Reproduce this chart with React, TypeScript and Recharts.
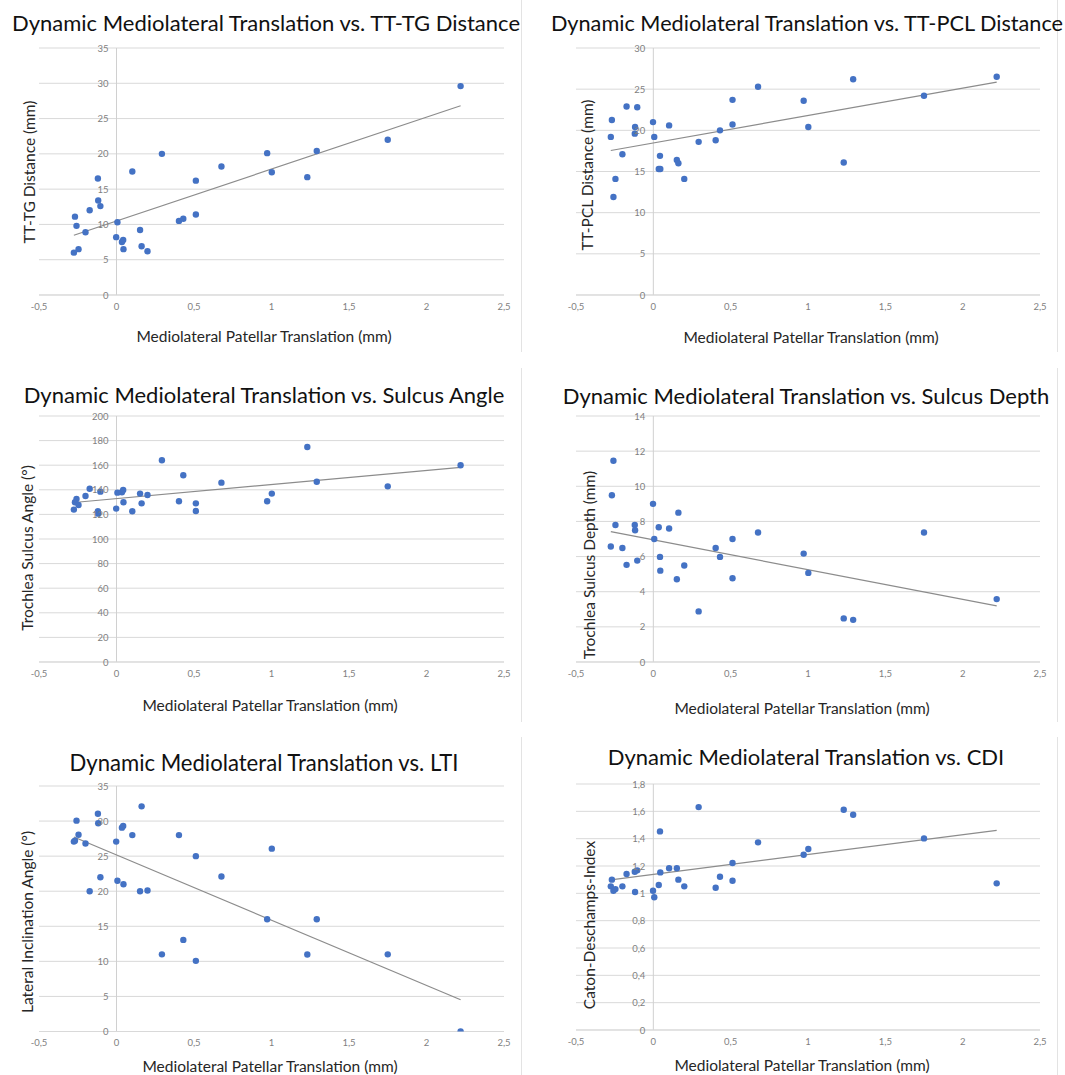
import { ScatterChart, Scatter, XAxis, YAxis, CartesianGrid, ReferenceLine } from "recharts";

// mediolateral patellar translation (mm), one value per knee
const translation = [
  -0.275, -0.268, -0.258, -0.245, -0.2, -0.173, -0.12, -0.118, -0.104, -0.002,
  0.006, 0.035, 0.043, 0.045, 0.102, 0.152, 0.162, 0.2, 0.293, 0.403,
  0.431, 0.512, 0.512, 0.677, 0.972, 1.002, 1.231, 1.292, 1.75, 2.22,
];

const ttTg = [
  6.0, 11.1, 9.8, 6.5, 8.9, 12.0, 16.5, 13.4, 12.6, 8.2,
  10.3, 7.5, 7.8, 6.5, 17.5, 9.2, 6.9, 6.2, 20.0, 10.5,
  10.8, 16.2, 11.4, 18.2, 20.1, 17.4, 16.7, 20.4, 22.0, 29.6,
];
const ttPcl = [
  19.2, 21.25, 11.9, 14.1, 17.1, 22.9, 19.6, 20.4, 22.8, 21.0,
  19.2, 15.3, 16.9, 15.3, 20.6, 16.4, 16.0, 14.1, 18.6, 18.8,
  20.0, 23.7, 20.7, 25.3, 23.6, 20.4, 16.1, 26.2, 24.2, 26.5,
];
const sulcusAngle = [
  123.9, 129.9, 132.5, 127.7, 135, 140.9, 122.6, 120.6, 138.5, 124.7,
  137.7, 138, 139.9, 129.9, 122.6, 136.9, 129, 135.8, 164, 130.7,
  151.8, 129, 122.8, 145.8, 130.7, 136.9, 174.8, 146.6, 142.8, 159.9,
];
const sulcusDepth = [
  6.57, 9.49, 11.45, 7.8, 6.49, 5.53, 7.8, 7.5, 5.77, 9.0,
  7.0, 7.67, 5.98, 5.2, 7.6, 4.71, 8.5, 5.49, 2.88, 6.49,
  5.98, 7.0, 4.77, 7.37, 6.17, 5.07, 2.48, 2.4, 7.37, 3.58,
];
const lti = [
  27.07, 27.2, 30.06, 28.06, 26.8, 20.0, 31.05, 29.7, 22.0, 27.07,
  21.5, 29.06, 29.3, 21.0, 28.0, 20.0, 32.1, 20.1, 11.0, 28.0,
  13.06, 25.0, 10.07, 22.1, 16.0, 26.07, 10.97, 16.0, 11.0, 0,
];
const cdi = [
  1.051, 1.1, 1.019, 1.031, 1.051, 1.141, 1.158, 1.01, 1.168, 1.019,
  0.971, 1.061, 1.453, 1.153, 1.183, 1.183, 1.1, 1.051, 1.631, 1.041,
  1.121, 1.222, 1.092, 1.373, 1.282, 1.324, 1.612, 1.575, 1.402, 1.073,
];

const xTicks = [-0.5, 0, 0.5, 1, 1.5, 2, 2.5];
const ticks35 = [0, 5, 10, 15, 20, 25, 30, 35];
const ticks30 = [0, 5, 10, 15, 20, 25, 30];
const ticks200 = [0, 20, 40, 60, 80, 100, 120, 140, 160, 180, 200];
const ticks14 = [0, 2, 4, 6, 8, 10, 12, 14];
const ticks18 = [0, 0.2, 0.4, 0.6, 0.8, 1, 1.2, 1.4, 1.6, 1.8];

const FONT = "Lato, 'Open Sans', sans-serif";
const PAD = 20;
const YW = 2;
const TOP = 6;
const XH = 22;

const comma = (v: number) => String(v).replace(".", ",");

// least squares trendline, like the spreadsheet's linear trendline
function trend(xs: number[], ys: number[]) {
  const n = xs.length;
  const mx = xs.reduce((a, b) => a + b, 0) / n;
  const my = ys.reduce((a, b) => a + b, 0) / n;
  let sxy = 0, sxx = 0;
  xs.forEach((x, i) => { sxy += (x - mx) * (ys[i] - my); sxx += (x - mx) ** 2; });
  const k = sxy / sxx;
  const x0 = Math.min(...xs), x1 = Math.max(...xs);
  return [{ x: x0, y: my + k * (x0 - mx) }, { x: x1, y: my + k * (x1 - mx) }];
}

type Pos = { x: number; y: number };

function Panel({ plot, values, yTicks, title, titlePos, titleSize, yTitle, yTitlePos, xTitlePos }: {
  plot: { left: number; top: number; w: number; h: number };
  values: number[];
  yTicks: number[];
  title: string;
  titlePos: Pos;
  titleSize: number;
  yTitle: string;
  yTitlePos: Pos;
  xTitlePos: Pos;
}) {
  const data = translation.map((x, i) => ({ x, y: values[i] }));
  const line = trend(translation, values);
  const zeroX = PAD + plot.w / 6;
  const yTick = (p: any) => (
    <text x={zeroX - 8} y={p.y} textAnchor="end" dominantBaseline="central" fontSize={9.5} fill="#7f7f7f" fontFamily={FONT}>
      {comma(p.payload.value)}
    </text>
  );
  const center = { position: "absolute" as const, whiteSpace: "nowrap" as const, lineHeight: 1, fontFamily: FONT };
  return (
    <>
      <div style={{ position: "absolute", left: plot.left - PAD, top: plot.top - TOP }}>
        <ScatterChart width={plot.w + 2 * PAD} height={plot.h + TOP + XH} margin={{ top: TOP, right: PAD, bottom: 0, left: PAD - YW }}>
          <CartesianGrid vertical={false} stroke="#d9d9d9" />
          <XAxis type="number" dataKey="x" domain={[-0.5, 2.5]} ticks={xTicks} interval={0} tickFormatter={comma}
            axisLine={{ stroke: "#d9d9d9" }} tickLine={false} height={XH}
            tick={{ fontSize: 9.5, fill: "#7f7f7f", fontFamily: FONT }} allowDataOverflow />
          <YAxis type="number" dataKey="y" domain={[0, yTicks[yTicks.length - 1]]} ticks={yTicks} interval={0}
            width={YW} axisLine={false} tickLine={false} tick={yTick} allowDataOverflow />
          <ReferenceLine x={0} stroke="#d0d0d0" />
          <ReferenceLine segment={line} stroke="#8c8c8c" strokeWidth={1.2} ifOverflow="visible" />
          <Scatter data={data} isAnimationActive={false}
            shape={(p: any) => <circle cx={p.cx} cy={p.cy} r={3.2} fill="#4472c4" />} />
        </ScatterChart>
      </div>
      <div style={{ ...center, left: titlePos.x, top: titlePos.y, transform: "translate(-50%,-50%)", fontSize: titleSize, color: "#111" }}>
        {title}
      </div>
      <div style={{ ...center, left: yTitlePos.x, top: yTitlePos.y, transform: "translate(-50%,-50%) rotate(-90deg)", fontSize: 15.5, color: "#262626" }}>
        {yTitle}
      </div>
      <div style={{ ...center, left: xTitlePos.x, top: xTitlePos.y, transform: "translate(-50%,-50%)", fontSize: 15.5, color: "#262626" }}>
        Mediolateral Patellar Translation (mm)
      </div>
    </>
  );
}

const border = (left: number, top: number, height: number) => (
  <div style={{ position: "absolute", left, top, width: 1, height, background: "#e3e3e3" }} />
);

export default function App() {
  const L = { left: 39, w: 465 };
  const R = { left: 576, w: 464 };
  return (
    <div style={{ position: "absolute", left: 0, top: 0, width: 1065, height: 1075, background: "#fff", overflow: "hidden" }}>
      {border(521, 0, 352)}
      {border(1057, 0, 352)}
      {border(521, 368, 354)}
      {border(1057, 368, 354)}
      {border(521, 737, 338)}
      {border(1057, 737, 338)}
      <Panel plot={{ ...L, top: 48, h: 247 }} values={ttTg} yTicks={ticks35}
        title="Dynamic Mediolateral Translation vs. TT-TG Distance" titlePos={{ x: 266, y: 23 }} titleSize={22}
        yTitle="TT-TG Distance (mm)" yTitlePos={{ x: 30, y: 172 }} xTitlePos={{ x: 264, y: 337 }} />
      <Panel plot={{ ...R, top: 48, h: 247 }} values={ttPcl} yTicks={ticks30}
        title="Dynamic Mediolateral Translation vs. TT-PCL Distance" titlePos={{ x: 807, y: 24 }} titleSize={21.7}
        yTitle="TT-PCL Distance (mm)" yTitlePos={{ x: 588, y: 175 }} xTitlePos={{ x: 811, y: 338 }} />
      <Panel plot={{ ...L, top: 416, h: 246 }} values={sulcusAngle} yTicks={ticks200}
        title="Dynamic Mediolateral Translation vs. Sulcus Angle" titlePos={{ x: 264, y: 395 }} titleSize={22}
        yTitle="Trochlea Sulcus Angle (°)" yTitlePos={{ x: 28, y: 548 }} xTitlePos={{ x: 270, y: 706 }} />
      <Panel plot={{ ...R, top: 416, h: 246 }} values={sulcusDepth} yTicks={ticks14}
        title="Dynamic Mediolateral Translation vs. Sulcus Depth" titlePos={{ x: 806, y: 395.5 }} titleSize={22}
        yTitle="Trochlea Sulcus Depth (mm)" yTitlePos={{ x: 590, y: 565 }} xTitlePos={{ x: 802, y: 709 }} />
      <Panel plot={{ ...L, top: 786, h: 245.5 }} values={lti} yTicks={ticks35}
        title="Dynamic Mediolateral Translation vs. LTI" titlePos={{ x: 264, y: 763 }} titleSize={22.1}
        yTitle="Lateral Inclination Angle (°)" yTitlePos={{ x: 28, y: 922 }} xTitlePos={{ x: 270, y: 1067 }} />
      <Panel plot={{ ...R, top: 784, h: 246 }} values={cdi} yTicks={ticks18}
        title="Dynamic Mediolateral Translation vs. CDI" titlePos={{ x: 806, y: 757 }} titleSize={22}
        yTitle="Caton-Deschamps-Index" yTitlePos={{ x: 590, y: 925 }} xTitlePos={{ x: 802, y: 1066 }} />
    </div>
  );
}
